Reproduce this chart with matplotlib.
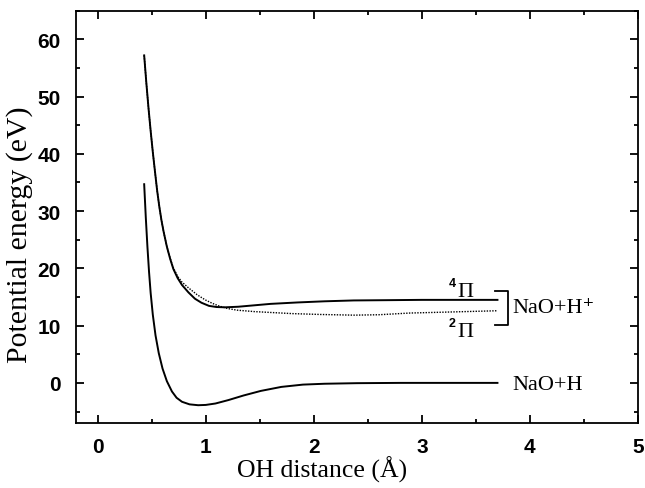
import matplotlib
matplotlib.use("Agg")
import matplotlib.pyplot as plt
from matplotlib.ticker import MultipleLocator

# ground state NaO+H
x_low = [0.43, 0.445, 0.46, 0.475, 0.49, 0.51, 0.535, 0.565, 0.60, 0.64, 0.687, 0.73,
         0.78, 0.85, 0.93, 1.0, 1.09, 1.21, 1.35, 1.51, 1.7, 1.9, 2.1, 2.4, 2.8, 3.2, 3.7]
y_low = [34.7, 28.9, 23.8, 19.4, 15.7, 11.9, 8.3, 5.2, 2.5, 0.3, -1.5, -2.6,
         -3.3, -3.75, -3.9, -3.85, -3.6, -3.0, -2.2, -1.4, -0.7, -0.3, -0.15, -0.05, 0.0, 0.0, 0.0]

# 4Pi state (solid)
x_4pi = [0.43, 0.45, 0.47, 0.49, 0.51, 0.53, 0.55, 0.57, 0.59, 0.61, 0.64, 0.67,
         0.70, 0.74, 0.78, 0.84, 0.90, 0.96, 1.03, 1.1, 1.18, 1.3, 1.45, 1.6, 1.85, 2.1,
         2.37, 2.7, 3.0, 3.4, 3.7]
y_4pi = [57.2, 52.4, 48.0, 44.0, 40.3, 36.9, 33.6, 30.8, 28.4, 26.4, 23.8, 21.7,
         19.9, 18.3, 17.1, 15.8, 14.7, 14.0, 13.45, 13.25, 13.2, 13.3, 13.55, 13.8, 14.05, 14.25,
         14.4, 14.45, 14.5, 14.5, 14.5]

# 2Pi state (dotted)
x_2pi = [0.43, 0.45, 0.47, 0.49, 0.51, 0.53, 0.55, 0.57, 0.59, 0.61, 0.64, 0.67,
         0.70, 0.74, 0.78, 0.84, 0.92, 0.995, 1.06, 1.12, 1.2, 1.29, 1.45, 1.6, 1.8, 2.06,
         2.37, 2.6, 2.89, 3.2, 3.5, 3.7]
y_2pi = [57.2, 52.4, 48.0, 44.0, 40.3, 36.9, 33.6, 30.8, 28.4, 26.4, 23.8, 21.8,
         20.1, 18.6, 17.6, 16.6, 15.4, 14.5, 13.9, 13.45, 13.0, 12.7, 12.45, 12.3, 12.1, 11.95,
         11.83, 11.9, 12.2, 12.35, 12.5, 12.6]

fig = plt.figure(figsize=(6.45, 4.89), dpi=100)
ax = fig.add_axes([0.118, 0.133, 0.871, 0.843])

ax.plot(x_low, y_low, color="black", lw=1.4)
ax.plot(x_4pi, y_4pi, color="black", lw=1.4)
ax.plot(x_2pi, y_2pi, color="black", lw=1.0, linestyle=(0, (1, 1)))

ax.set_xlim(-0.2, 5)
ax.set_ylim(-7, 65)
ax.xaxis.set_major_locator(MultipleLocator(1))
ax.xaxis.set_minor_locator(MultipleLocator(0.5))
ax.yaxis.set_major_locator(MultipleLocator(10))
ax.yaxis.set_minor_locator(MultipleLocator(5))
ax.tick_params(which="both", direction="in", top=True, right=True, width=1.3)
ax.tick_params(which="major", length=6, labelsize=15)
ax.tick_params(axis="x", which="major", pad=10)
ax.tick_params(axis="y", which="major", pad=11)
ax.tick_params(which="minor", length=3)
for lab in ax.get_xticklabels() + ax.get_yticklabels():
    lab.set_family("Liberation Sans")
    lab.set_weight("bold")
for sp in ax.spines.values():
    sp.set_linewidth(1.3)

serif = ["Liberation Serif", "DejaVu Serif"]
ax.set_xlabel("OH distance (Å)", family=serif, fontsize=18.5)
ax.set_ylabel("Potential energy (eV)", family=serif, fontsize=21.5)
ax.xaxis.set_label_coords(0.438, -0.080)
ax.yaxis.set_label_coords(-0.077, 0.459)

# state labels and bracket
ax.plot([3.68, 3.80, 3.80, 3.68], [16.1, 16.1, 10.1, 10.1], color="black", lw=1.3)
ax.text(3.84, 13.2, "NaO+H⁺", family=serif, fontsize=16, va="center")
ax.text(3.84, -0.2, "NaO+H", family=serif, fontsize=16, va="center")
ax.text(3.33, 16.0, "Π", family=serif, fontsize=16, va="center")
ax.text(3.25, 17.4, "4", family="Liberation Sans", fontsize=9, weight="bold", va="center")
ax.text(3.33, 8.9, "Π", family=serif, fontsize=16, va="center")
ax.text(3.25, 10.5, "2", family="Liberation Sans", fontsize=9, weight="bold", va="center")

fig.savefig("out.png", dpi=100)
